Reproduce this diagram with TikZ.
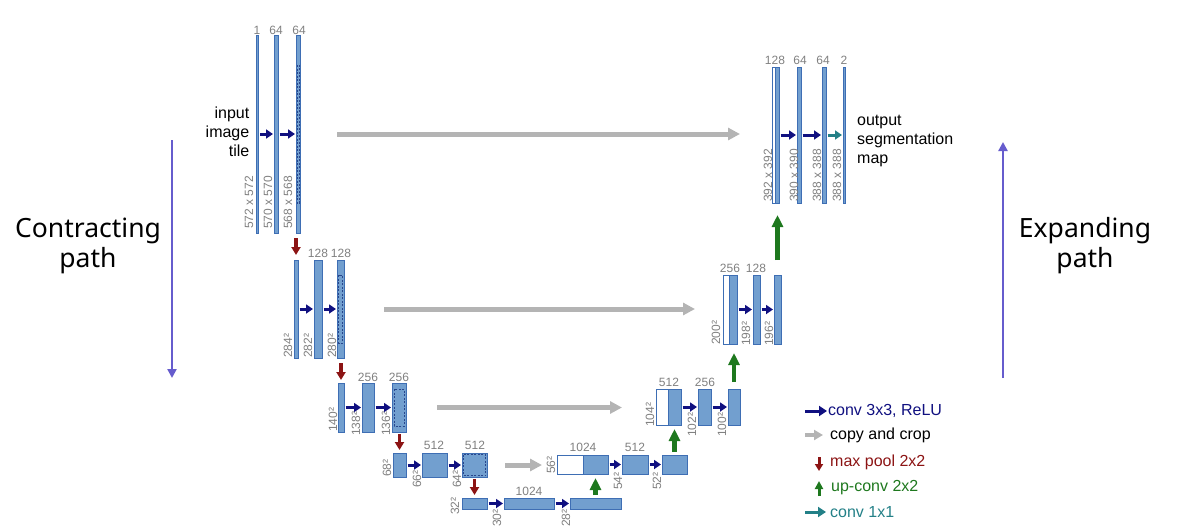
\documentclass[tikz,border=0pt]{standalone}
\usepackage{fontspec}
\setmainfont{Liberation Sans}
\newfontfamily\pathfont{Noto Sans}
\usetikzlibrary{arrows.meta}
\definecolor{barfill}{RGB}{114,159,207}
\definecolor{barline}{RGB}{62,110,180}
\definecolor{dashc}{RGB}{40,70,140}
\definecolor{labgray}{RGB}{128,128,128}
\definecolor{convc}{RGB}{16,16,128}
\definecolor{copyc}{RGB}{180,180,180}
\definecolor{poolc}{RGB}{140,20,20}
\definecolor{upc}{RGB}{30,120,30}
\definecolor{onec}{RGB}{35,128,135}
\definecolor{pathc}{RGB}{102,92,205}
\newcommand\ubox[6]{\node[bar,fill=#6,minimum width={(#4-#2)*1pt},minimum height={(#5-#3)*1pt}] (#1) at (#2,#3) {};}
\begin{document}
\begin{tikzpicture}[x=1pt,y=-1pt,
  bar/.style={draw=barline,line width=0.7pt,inner sep=0pt,outer sep=0pt,anchor=north west},
  dim/.style={text=labgray,font=\fontsize{12}{12}\selectfont,inner sep=0pt},
  rdim/.style={dim,rotate=90,anchor=west},
  cdim/.style={dim,anchor=base},
  dashin/.style={draw=dashc,line width=0.6pt,dash pattern=on 2pt off 1.5pt},
  conv/.style={draw=convc,line width=3pt,-{Triangle[length=7pt,width=9pt]},shorten <=1.5pt,shorten >=1pt},
  one/.style={draw=onec,line width=3pt,-{Triangle[length=7pt,width=9pt]},shorten <=1.5pt,shorten >=1pt},
  copy/.style={draw=copyc,line width=5pt,-{Triangle[length=12pt,width=12pt]}},
  pool/.style={draw=poolc,line width=3.5pt,-{Triangle[length=8pt,width=9pt]}},
  up/.style={draw=upc,line width=4.3pt,-{Triangle[length=12pt,width=11pt]}},
  pathar/.style={draw=pathc,line width=2.8pt,-{Triangle[length=9pt,width=9pt]}},
  pathtxt/.style={font=\pathfont\fontsize{26.5}{30}\selectfont,align=center,inner sep=0pt},
  txt/.style={font=\fontsize{16}{19}\selectfont,inner sep=0pt},
]
\useasboundingbox (0,0) rectangle (1179,528);

% ---------- contracting path bars
\ubox{l1a}{256}{35}{258.5}{233}{barfill}
\ubox{l1b}{274}{35}{278}{233}{barfill}
\ubox{l1c}{296}{35}{300}{233}{barfill}
\ubox{l2a}{294}{260}{298}{358}{barfill}
\ubox{l2b}{314}{260}{322}{358}{barfill}
\ubox{l2c}{337}{260}{344}{358}{barfill}
\ubox{l3a}{338}{383}{344}{432}{barfill}
\ubox{l3b}{362}{383}{374}{432}{barfill}
\ubox{l3c}{392}{383}{406}{432}{barfill}
\ubox{l4a}{393}{453}{406}{477}{barfill}
\ubox{l4b}{422}{453}{447}{477}{barfill}
\ubox{l4c}{462}{453}{487}{477}{barfill}
\ubox{l5a}{462}{498}{487}{509}{barfill}
\ubox{l5b}{504}{498}{554}{509}{barfill}
\ubox{l5c}{570}{498}{621}{509}{barfill}
% ---------- expanding path bars
\ubox{r4w}{557}{455}{583}{474}{white}
\ubox{r4a}{583}{455}{608}{474}{barfill}
\ubox{r4b}{622}{455}{648}{474}{barfill}
\ubox{r4c}{662}{455}{687}{474}{barfill}
\ubox{r3w}{656}{389}{668}{425}{white}
\ubox{r3a}{668}{389}{681}{425}{barfill}
\ubox{r3b}{698}{389}{711}{425}{barfill}
\ubox{r3c}{728}{389}{740}{425}{barfill}
\ubox{r2w}{723}{275}{729}{344}{white}
\ubox{r2a}{729}{275}{737}{344}{barfill}
\ubox{r2b}{753}{275}{760}{344}{barfill}
\ubox{r2c}{774}{275}{781}{344}{barfill}
\ubox{r1w}{772}{67}{775}{203}{white}
\ubox{r1a}{775}{67}{779}{203}{barfill}
\ubox{r1b}{797}{67}{801}{203}{barfill}
\ubox{r1c}{822}{67}{826}{203}{barfill}
\ubox{r1d}{843}{67}{845}{203}{barfill}

% ---------- dashed crop regions
\draw[dashin] (297,65) rectangle (299.3,203);
\draw[dashin] (338.6,275) rectangle (342.4,343);
\draw[dashin] (394,389) rectangle (404,426);
\draw[dashin] (463.5,454.5) rectangle (485.5,475.5);

% ---------- channel labels
\node[cdim] (c1) at (257,34) {1};
\node[cdim] (c2) at (276,34) {64};
\node[cdim] (c3) at (299,34) {64};
\node[cdim] (c4) at (318,257) {128};
\node[cdim] (c5) at (341,257) {128};
\node[cdim] (c6) at (368,381) {256};
\node[cdim] (c7) at (399,381) {256};
\node[cdim] (c8) at (434,449) {512};
\node[cdim] (c9) at (475,449) {512};
\node[cdim] (c10) at (529,495) {1024};
\node[cdim] (c11) at (583,451) {1024};
\node[cdim] (c12) at (635,451) {512};
\node[cdim] (c13) at (669,386) {512};
\node[cdim] (c14) at (705,386) {256};
\node[cdim] (c15) at (730,272) {256};
\node[cdim] (c16) at (756,272) {128};
\node[cdim] (c17) at (775,64) {128};
\node[cdim] (c18) at (800,64) {64};
\node[cdim] (c19) at (823,64) {64};
\node[cdim] (c20) at (844,64) {2};

% ---------- size labels
\node[rdim] (s1) at (249,229) {572 x 572};
\node[rdim] (s2) at (268,229) {570 x 570};
\node[rdim] (s3) at (288,229) {568 x 568};
\node[rdim] (s4) at (288,358) {284²};
\node[rdim] (s5) at (308,358) {282²};
\node[rdim] (s6) at (332,358) {280²};
\node[rdim] (s7) at (333,432) {140²};
\node[rdim] (s8) at (356,436) {138²};
\node[rdim] (s9) at (386,436) {136²};
\node[rdim] (s10) at (387,477) {68²};
\node[rdim] (s11) at (417,488) {66²};
\node[rdim] (s12) at (457,488) {64²};
\node[rdim] (s13) at (455,515) {32²};
\node[rdim] (s14) at (497,527) {30²};
\node[rdim] (s15) at (566,527) {28²};
\node[rdim] (s16) at (551,474) {56²};
\node[rdim] (s17) at (618,490) {54²};
\node[rdim] (s18) at (657,490) {52²};
\node[rdim] (s19) at (650,427) {104²};
\node[rdim] (s20) at (692,437) {102²};
\node[rdim] (s21) at (722,437) {100²};
\node[rdim] (s22) at (716,345) {200²};
\node[rdim] (s23) at (746,346) {198²};
\node[rdim] (s24) at (769,346) {196²};
\node[rdim] (s25) at (768,202) {392 x 392};
\node[rdim] (s26) at (794,202) {390 x 390};
\node[rdim] (s27) at (817,202) {388 x 388};
\node[rdim] (s28) at (837,202) {388 x 388};

% ---------- conv 3x3 arrows
\draw[conv] (l1a.east) -- (l1b.west);
\draw[conv] (l1b.east) -- (l1c.west);
\draw[conv] (l2a.east) -- (l2b.west);
\draw[conv] (l2b.east) -- (l2c.west);
\draw[conv] (l3a.east) -- (l3b.west);
\draw[conv] (l3b.east) -- (l3c.west);
\draw[conv] (l4a.east) -- (l4b.west);
\draw[conv] (l4b.east) -- (l4c.west);
\draw[conv] (l5a.east) -- (l5b.west);
\draw[conv] (l5b.east) -- (l5c.west);
\draw[conv] (r4a.east) -- (r4b.west);
\draw[conv] (r4b.east) -- (r4c.west);
\draw[conv] (r3a.east) -- (r3b.west);
\draw[conv] (r3b.east) -- (r3c.west);
\draw[conv] (r2a.east) -- (r2b.west);
\draw[conv] (r2b.east) -- (r2c.west);
\draw[conv] (r1a.east) -- (r1b.west);
\draw[conv] (r1b.east) -- (r1c.west);
\draw[one] (r1c.east) -- (r1d.west);

% ---------- copy and crop
\draw[copy,shorten <=37pt,shorten >=32pt] (l1c.east) -- (l1c.east -| r1w.west);
\draw[copy,shorten <=40pt,shorten >=28pt] (l2c.east) -- (l2c.east -| r2w.west);
\draw[copy,shorten <=31pt,shorten >=34pt] (l3c.east) -- (l3c.east -| r3w.west);
\draw[copy,shorten <=18pt,shorten >=15pt] (l4c.east) -- (l4c.east -| r4w.west);

% ---------- max pool
\draw[pool,shorten <=5pt,shorten >=5pt] (l2a.north |- l1c.south) -- (l2a.north);
\draw[pool,shorten <=5pt,shorten >=3pt] (l3a.north |- l2c.south) -- (l3a.north);
\draw[pool,shorten <=2pt,shorten >=3pt] (l4a.north |- l3c.south) -- (l4a.north);
\draw[pool,shorten <=2pt,shorten >=3pt] (l5a.north |- l4c.south) -- (l5a.north);

% ---------- up-conv
\draw[up,shorten <=3pt,shorten >=4pt] (l5c.north) -- (r4a.south);
\draw[up,shorten <=3pt,shorten >=4pt] (r4c.north) -- (r3a.south);
\draw[up,shorten <=7pt,shorten >=9pt] (r3c.north) -- (r2a.south -| r3c.north);
\draw[up,shorten <=15pt,shorten >=12pt] (r2c.north) -- (r1a.south -| r2c.north);

% ---------- texts
\node[txt,align=right,anchor=east] (inp) at (249.5,132) {input\\image\\tile};
\node[txt,align=left,anchor=west] (outp) at (857,141) {output\\segmentation\\map};

\node[pathtxt] (ctext) at (88,246) {Contracting\\path};
\node[pathtxt] (etext) at (1085,246) {Expanding\\path};
\coordinate (ca1) at (172,140);
\coordinate (ca2) at (172,378);
\coordinate (ea1) at (1003,378);
\coordinate (ea2) at (1003,142);
\draw[pathar] (ca1) -- (ca2);
\draw[pathar] (ea1) -- (ea2);

% ---------- legend
\node[txt,anchor=west,text=convc] (lg1) at (828,411) {conv 3x3, ReLU};
\node[txt,anchor=west,text=black] (lg2) at (830,435) {copy and crop};
\node[txt,anchor=west,text=poolc] (lg3) at (830,462) {max pool 2x2};
\node[txt,anchor=west,text=upc] (lg4) at (831,488) {up-conv 2x2};
\node[txt,anchor=west,text=onec] (lg5) at (830,512) {conv 1x1};
\coordinate (a1) at (805,411);
\coordinate (a2) at (805,435);
\coordinate (a3) at (823,435);
\coordinate (a4) at (819,457);
\coordinate (a5) at (819,471);
\coordinate (a6) at (819,496);
\coordinate (a7) at (819,481);
\coordinate (a8) at (805,512);
\draw[conv,shorten <=0pt,shorten >=1pt,-{Triangle[length=8pt,width=10pt]}] (a1) -- (lg1.west);
\draw[copy,line width=4pt,-{Triangle[length=9pt,width=10pt]}] (a2) -- (a3);
\draw[pool,line width=3pt,-{Triangle[length=7pt,width=8pt]}] (a4) -- (a5);
\draw[up,line width=3pt,-{Triangle[length=8pt,width=8pt]}] (a6) -- (a7);
\draw[one,shorten <=0pt,shorten >=4pt,-{Triangle[length=8pt,width=10pt]}] (a8) -- (lg5.west);
\end{tikzpicture}
\end{document}
